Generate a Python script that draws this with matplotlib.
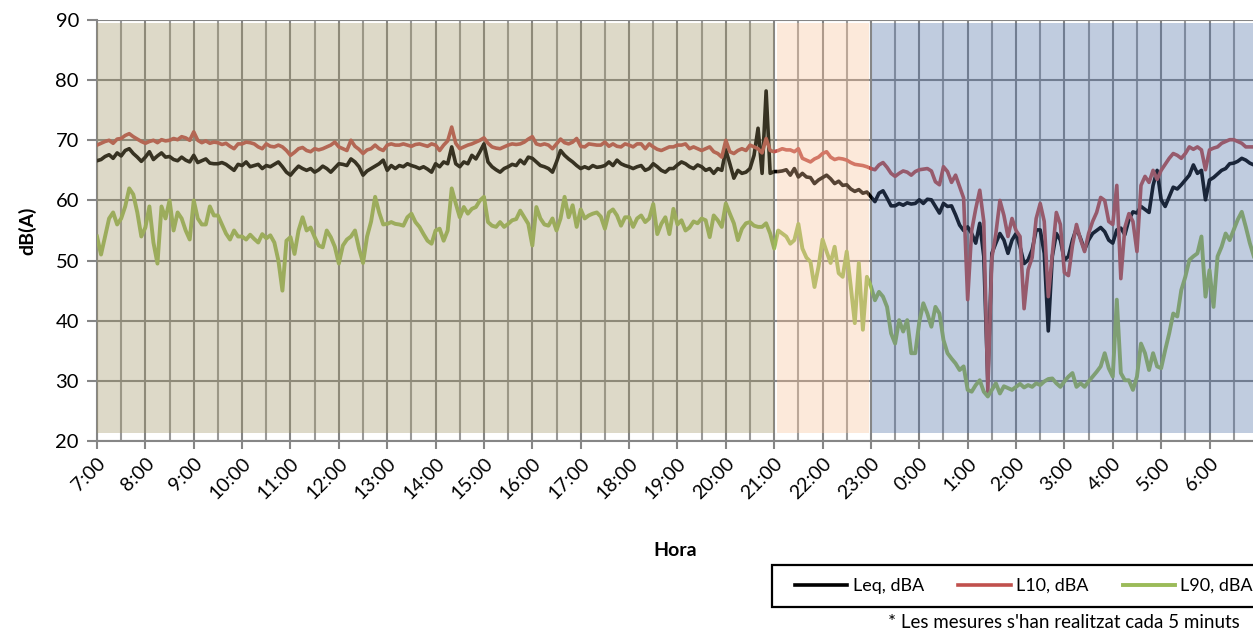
import numpy as np
import matplotlib
matplotlib.use("Agg")
import matplotlib.pyplot as plt
from matplotlib.patches import Rectangle

plt.rcParams['font.family'] = ['Lato', 'DejaVu Sans']

# 5-minute samples from 7:00 to 6:55 next day, one row per hour
leq = [
    66.6, 66.8, 67.3, 67.6, 67.0, 67.9, 67.4, 68.3, 68.6, 67.8, 67.2, 66.5,  # 7:00
    67.2, 68.1, 66.8, 67.4, 67.9, 67.2, 67.3, 66.8, 66.6, 67.2, 66.7, 66.4,  # 8:00
    67.5, 66.3, 66.6, 66.9, 66.2, 66.1, 66.1, 66.3, 66.0, 65.5, 65.0, 66.0,  # 9:00
    65.8, 66.4, 65.6, 65.8, 66.0, 65.3, 65.8, 65.6, 66.0, 66.4, 65.6, 64.7,  # 10:00
    64.2, 65.0, 65.7, 65.3, 65.0, 65.3, 64.7, 65.1, 65.7, 65.3, 64.7, 65.4,  # 11:00
    66.1, 66.0, 65.8, 66.9, 66.4, 65.6, 64.2, 64.9, 65.3, 65.7, 66.1, 66.7,  # 12:00
    65.0, 65.8, 65.3, 65.8, 65.6, 66.1, 65.8, 65.6, 65.3, 65.6, 65.2, 64.7,  # 13:00
    66.1, 65.6, 66.4, 66.1, 68.9, 66.1, 65.6, 66.4, 66.1, 67.5, 66.9, 68.1,  # 14:00
    69.4, 66.4, 65.6, 65.1, 64.7, 65.3, 65.6, 66.0, 65.8, 66.7, 66.1, 67.2,  # 15:00
    67.0, 66.4, 65.8, 65.6, 65.3, 64.7, 66.4, 68.3, 67.5, 66.9, 66.4, 65.8,  # 16:00
    65.3, 65.6, 65.3, 65.8, 65.5, 65.6, 65.8, 66.4, 65.8, 66.7, 66.1, 65.8,  # 17:00
    65.6, 65.3, 65.6, 65.8, 65.0, 65.3, 66.1, 65.6, 65.0, 64.7, 65.3, 65.3,  # 18:00
    65.9, 66.4, 66.1, 65.6, 65.3, 65.9, 65.6, 65.0, 65.3, 64.5, 65.3, 65.0,  # 19:00
    68.4, 66.1, 63.7, 65.0, 64.5, 64.7, 65.3, 67.5, 72.0, 64.5, 78.2, 64.5,  # 20:00
    64.8, 64.8, 64.9, 65.1, 64.2, 65.3, 63.9, 64.5, 63.9, 63.8, 62.8, 63.4,  # 21:00
    63.8, 64.2, 63.6, 62.8, 63.2, 62.5, 62.6, 61.9, 61.5, 61.8, 61.2, 61.4,  # 22:00
    60.6, 59.8, 61.2, 61.6, 60.4, 59.1, 59.1, 59.5, 59.2, 59.6, 59.4, 59.5,  # 23:00
    60.1, 59.5, 60.2, 60.1, 59.0, 57.9, 59.5, 59.0, 59.1, 57.6, 55.9, 55.0,  # 0:00
    55.6, 54.5, 52.9, 56.2, 50.7, 30.0, 51.2, 52.9, 54.5, 53.4, 51.2, 53.4,  # 1:00
    54.5, 52.3, 49.5, 50.1, 51.8, 55.1, 55.1, 51.2, 38.3, 50.7, 54.5, 53.4,  # 2:00
    50.1, 50.7, 53.4, 55.4, 53.7, 51.8, 53.4, 54.5, 55.0, 55.5, 54.8, 53.4,  # 3:00
    52.9, 55.1, 55.4, 54.3, 56.8, 58.1, 57.9, 59.0, 58.5, 58.0, 62.5, 65.0,  # 4:00
    60.1, 59.0, 60.6, 62.2, 61.9, 62.6, 63.4, 64.2, 65.9, 64.5, 65.0, 60.1,  # 5:00
    63.4, 63.8, 64.4, 65.0, 65.3, 66.1, 66.2, 66.5, 67.0, 66.7, 66.2, 65.9,  # 6:00
]
l10 = [
    69.2, 69.5, 69.8, 70.0, 69.5, 70.2, 70.3, 70.8, 71.1, 70.6, 70.2, 69.8,
    69.5, 69.8, 70.0, 69.6, 70.1, 69.9, 70.0, 70.3, 70.1, 70.6, 70.4, 70.0,
    71.4, 70.0, 69.6, 69.9, 69.5, 69.7, 69.6, 69.3, 69.5, 69.0, 68.6, 69.4,
    69.4, 69.7, 69.6, 69.4, 68.9, 68.6, 69.4, 69.0, 68.9, 69.2, 68.9, 68.3,
    67.5, 68.0, 68.6, 68.8, 68.3, 68.1, 68.6, 68.4, 68.6, 68.9, 69.2, 69.7,
    68.9, 68.6, 68.3, 70.0, 69.0, 68.5, 67.8, 68.4, 68.6, 69.2, 68.6, 68.3,
    69.2, 69.4, 69.2, 69.2, 69.4, 69.2, 69.0, 69.3, 69.4, 69.2, 69.0, 69.4,
    69.2, 68.3, 69.2, 69.9, 72.2, 69.5, 68.6, 68.9, 69.2, 69.4, 69.7, 70.0,
    70.4, 69.5, 68.9, 68.7, 68.6, 68.9, 69.2, 69.4, 69.3, 69.4, 69.7, 70.2,
    70.6, 69.4, 69.2, 69.4, 69.2, 68.6, 69.4, 70.2, 69.6, 69.4, 69.7, 70.3,
    69.0, 68.9, 69.4, 69.3, 69.2, 69.2, 69.7, 69.0, 69.4, 69.0, 68.9, 69.4,
    69.2, 68.9, 69.4, 69.4, 68.6, 69.4, 68.9, 68.5, 68.3, 68.6, 68.9, 68.9,
    69.2, 69.2, 69.4, 68.6, 68.9, 68.6, 68.3, 68.6, 68.9, 68.1, 67.8, 67.2,
    70.0, 68.1, 67.8, 68.3, 68.6, 68.3, 69.2, 68.9, 68.6, 67.9, 70.3, 68.3,
    68.1, 68.3, 68.6, 68.4, 68.4, 68.1, 68.6, 67.0, 66.7, 66.4, 66.9, 67.2,
    67.8, 68.1, 67.2, 66.8, 67.0, 66.9, 66.7, 66.3, 66.0, 65.9, 65.8, 65.6,
    65.3, 65.1, 65.9, 66.3, 65.5, 64.5, 64.0, 64.5, 64.9, 64.7, 64.2, 64.8,
    65.1, 65.2, 65.3, 64.9, 63.1, 62.6, 65.6, 64.8, 63.0, 64.2, 62.3, 60.4,
    43.5, 55.0, 58.6, 61.7, 56.5, 28.2, 50.4, 54.5, 60.0, 57.5, 54.0, 57.0,
    55.0, 54.0, 42.0, 48.5, 50.5, 57.0, 59.5, 56.5, 44.0, 51.0, 58.0, 56.0,
    48.0, 47.5, 52.5, 56.0, 53.5, 51.5, 54.5, 56.5, 58.0, 60.5, 60.0, 56.5,
    56.0, 62.5, 47.0, 55.5, 57.8, 56.5, 51.5, 62.5, 64.0, 63.0, 65.0, 63.5,
    65.0, 66.0, 67.0, 67.8, 67.5, 67.0, 67.8, 68.9, 68.5, 68.9, 68.4, 65.1,
    68.4, 68.7, 68.9, 69.5, 69.8, 70.1, 70.1, 69.8, 69.5, 68.9, 68.9, 68.9,
]
l90 = [
    54.0, 51.0, 54.0, 57.0, 58.0, 56.0, 57.0, 59.0, 62.0, 61.0, 58.0, 54.0,
    55.5, 59.0, 53.0, 49.5, 59.0, 57.0, 60.0, 55.0, 58.0, 57.0, 55.0, 53.5,
    60.0, 57.0, 56.0, 56.0, 59.0, 57.5, 57.5, 56.0, 54.5, 53.5, 55.0, 54.0,
    54.0, 53.5, 54.3, 53.6, 53.0, 54.4, 53.7, 54.2, 53.0, 50.0, 45.0, 53.3,
    53.9, 51.1, 55.0, 57.2, 55.0, 55.5, 53.9, 52.5, 52.2, 55.0, 53.9, 52.3,
    49.5, 52.5, 53.5, 54.0, 55.0, 52.0, 49.6, 54.0, 56.5, 60.6, 58.0, 56.0,
    56.1, 56.4, 56.1, 56.0, 55.8, 57.2, 57.8, 56.4, 55.6, 54.4, 53.3, 52.8,
    55.0, 55.3, 53.3, 55.0, 62.0, 59.5, 57.2, 58.9, 57.8, 58.6, 58.9, 60.0,
    60.6, 56.4, 55.8, 55.6, 56.4, 55.6, 56.1, 56.7, 56.9, 58.3, 57.2, 56.1,
    52.5, 58.9, 57.0, 56.0, 55.8, 57.0, 55.0, 57.0, 60.6, 57.2, 59.2, 55.6,
    58.5, 57.0, 57.5, 57.8, 58.0, 57.3, 55.3, 58.0, 58.5, 57.5, 55.8, 57.2,
    57.2, 55.6, 57.0, 57.5, 56.4, 57.0, 59.4, 54.4, 56.1, 57.2, 54.4, 58.6,
    56.0, 56.7, 55.0, 55.5, 56.5, 56.2, 57.0, 56.7, 53.9, 57.5, 56.7, 55.6,
    59.5, 57.8, 56.2, 53.4, 55.3, 56.2, 56.4, 55.8, 55.6, 55.6, 56.2, 54.5,
    52.0, 55.0, 54.5, 54.0, 52.8, 53.4, 56.1, 52.0, 50.5, 49.8, 45.6, 49.0,
    53.5, 51.5, 49.6, 52.3, 47.9, 47.3, 51.5, 45.7, 39.6, 49.6, 38.5, 47.3,
    45.7, 43.4, 44.8, 44.0, 42.3, 37.9, 36.2, 40.1, 38.2, 40.1, 34.6, 34.6,
    39.8, 42.9, 41.2, 39.0, 42.3, 41.2, 36.8, 34.6, 33.7, 32.9, 31.8, 32.4,
    28.5, 28.2, 29.3, 30.1, 28.2, 27.4, 28.5, 29.6, 27.9, 29.1, 28.8, 28.5,
    29.0, 29.5, 28.9, 29.3, 29.0, 29.6, 29.3, 29.9, 30.3, 30.4, 29.6, 29.0,
    29.9, 30.7, 31.3, 29.0, 29.6, 29.0, 29.9, 30.7, 31.5, 32.4, 34.6, 32.1,
    30.7, 43.5, 31.3, 30.1, 30.1, 28.5, 30.7, 36.2, 34.6, 31.8, 34.6, 32.4,
    32.1, 35.1, 37.9, 41.2, 40.7, 45.1, 47.3, 50.1, 50.7, 51.2, 54.0, 44.0,
    48.4, 42.3, 50.7, 52.3, 54.5, 53.4, 55.1, 56.8, 58.1, 55.6, 52.9, 50.7,
]
hour_labels = ['7:00', '8:00', '9:00', '10:00', '11:00', '12:00', '13:00', '14:00',
               '15:00', '16:00', '17:00', '18:00', '19:00', '20:00', '21:00', '22:00',
               '23:00', '0:00', '1:00', '2:00', '3:00', '4:00', '5:00', '6:00']
# periods (minutes after 7:00): day, evening, night
periods = [(0, 840), (843, 958), (961, 1440)]
period_colors = ['#9E9262', '#F9C296', '#4B6DA6']

minutes = np.arange(len(leq)) * 5

fig = plt.figure(figsize=(12.53, 6.33), dpi=100)
ax = fig.add_axes([97 / 1253, 1 - 441 / 633, 1 - 97 / 1253, 421 / 633])

ax.plot(minutes, leq, color='black', lw=2.6, zorder=3, label='Leq, dBA')
ax.plot(minutes, l10, color='#C0504D', lw=2.6, zorder=3, label='L10, dBA')
ax.plot(minutes, l90, color='#9BBB59', lw=2.8, zorder=3, label='L90, dBA')

for (x0, x1), c in zip(periods, period_colors):
    ax.add_patch(Rectangle((x0, 21.4), x1 - x0, 89.5 - 21.4, facecolor=c,
                           edgecolor='none', alpha=0.35, zorder=4))

ax.set_xlim(0, (1253 - 97) / 48.37 * 60)
ax.set_ylim(20, 90)
ax.set_yticks(range(20, 91, 10))
ax.set_xticks(np.arange(0, 1440, 60))
ax.set_xticks(np.arange(30, 1440, 60), minor=True)
ax.set_xticklabels(hour_labels, rotation=45, ha='right', rotation_mode='anchor')

ax.grid(axis='y', color='#868686', lw=1.5, zorder=1)
ax.grid(axis='x', which='major', color='#868686', lw=1.5, zorder=1)
ax.grid(axis='x', which='minor', color='#9a9a9a', lw=1.5, zorder=1)
ax.set_axisbelow(True)

for s in ['top', 'right']:
    ax.spines[s].set_visible(False)
ax.spines['left'].set_color('#868686')
ax.spines['left'].set_linewidth(1.5)
ax.spines['bottom'].set_color('#868686')
ax.spines['bottom'].set_linewidth(1.5)

ax.tick_params(axis='y', which='major', length=7, width=1.5, color='#868686',
               labelsize=14.5, pad=6)
ax.tick_params(axis='x', which='major', length=6, width=1.5, color='#868686',
               labelsize=14, pad=4)
ax.tick_params(axis='x', which='minor', length=0)

ax.set_ylabel('dB(A)', fontsize=14, fontweight='bold', labelpad=14)
fig.text(675 / 1253, 1 - 550 / 633, 'Hora', fontsize=14, fontweight='bold',
         ha='center', va='center')

# legend frame drawn by hand so it runs off the right edge like the original
fig.patches.append(Rectangle((772 / 1253, 1 - 607 / 633), 0.4, 42 / 633,
                             transform=fig.transFigure, facecolor='white',
                             edgecolor='black', lw=1.6, zorder=5))
leg = fig.legend(loc='center left', bbox_to_anchor=(795 / 1253, 1 - 586 / 633), ncol=3,
                 fontsize=13, frameon=False, handlelength=2.9,
                 handletextpad=0.3, columnspacing=1.9, borderaxespad=0,
                 borderpad=0)
leg.set_zorder(6)

fig.text(1240 / 1253, 1 - 623 / 633, "* Les mesures s'han realitzat cada 5 minuts",
         fontsize=13.5, ha='right', va='center')

fig.savefig('out.png', dpi=100)
